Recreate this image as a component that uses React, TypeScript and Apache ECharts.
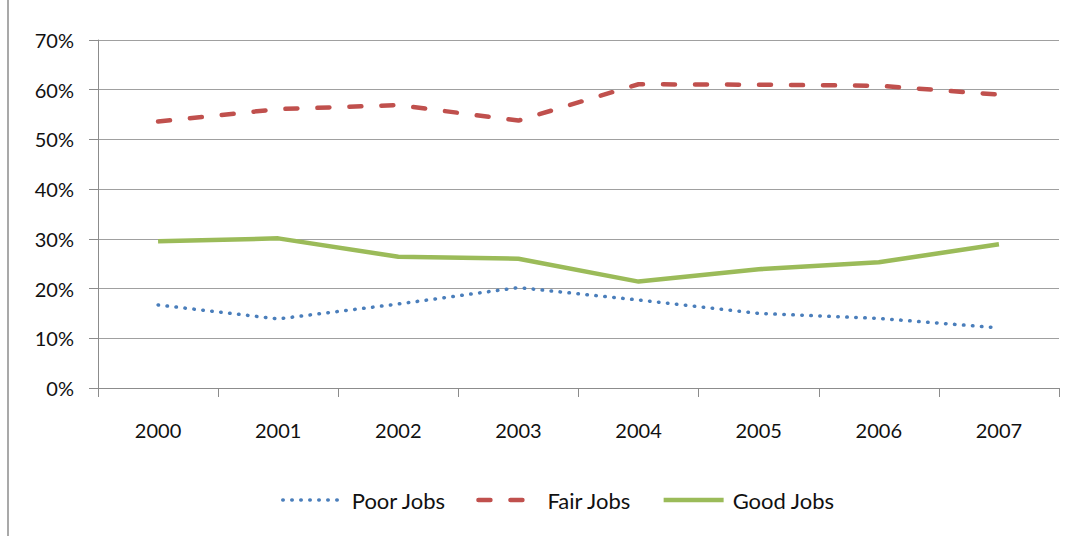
import React, { useEffect, useRef } from "react";
import * as echarts from "echarts";

const years = ["2000", "2001", "2002", "2003", "2004", "2005", "2006", "2007"];
const poorJobs = [16.7, 13.9, 16.9, 20.2, 17.7, 15.0, 14.0, 12.1];
const fairJobs = [53.6, 56.1, 56.9, 53.8, 61.1, 61.0, 60.8, 59.0];
const goodJobs = [29.5, 30.1, 26.4, 26.0, 21.4, 23.9, 25.3, 28.9];

const FONT = "Lato";

export default function App() {
  const ref = useRef<HTMLDivElement>(null);
  useEffect(() => {
    document.body.style.margin = "0";
    const chart = echarts.init(ref.current!, null, { renderer: "svg" });
    chart.setOption({
      animation: false,
      backgroundColor: "#ffffff",
      textStyle: { fontFamily: FONT },
      grid: { left: 98, right: 18, top: 40, bottom: 148, containLabel: false },
      graphic: [
        {
          type: "line",
          shape: { x1: 8, y1: 0, x2: 8, y2: 536 },
          style: { stroke: "#8c8c8c", lineWidth: 1.5 },
        },
      ],
      legend: {
        data: [
          { name: "Poor Jobs", lineStyle: { width: 3.5 }, itemStyle: { opacity: 0 } },
          { name: "Fair Jobs", lineStyle: { width: 4.5 }, itemStyle: { opacity: 0 } },
          { name: "Good Jobs", lineStyle: { width: 4.5 }, itemStyle: { opacity: 0 } },
        ],
        left: 276,
        top: 484,
        itemWidth: 60,
        itemHeight: 4,
        itemGap: 30,
        textStyle: { fontFamily: FONT, fontSize: 22, color: "#111111", padding: [0, 0, 0, 4] },
      },
      xAxis: {
        type: "category",
        data: years,
        boundaryGap: true,
        axisLine: { lineStyle: { color: "#8c8c8c", width: 1 } },
        axisTick: { show: true, length: 9, inside: false, lineStyle: { color: "#8c8c8c" } },
        axisLabel: { fontFamily: FONT, fontSize: 20, color: "#111111", margin: 32 },
        splitLine: { show: false },
      },
      yAxis: {
        type: "value",
        min: 0,
        max: 70,
        interval: 10,
        axisLine: { show: true, lineStyle: { color: "#8c8c8c", width: 1 } },
        axisTick: { show: true, length: 9, lineStyle: { color: "#8c8c8c" } },
        axisLabel: {
          fontFamily: FONT,
          fontSize: 20,
          color: "#111111",
          margin: 24,
          formatter: (v: number) => v + "%",
        },
        splitLine: { show: true, lineStyle: { color: "#a0a0a0", width: 1.2 } },
      },
      series: [
        {
          name: "Poor Jobs",
          type: "line",
          data: poorJobs,
          symbol: "none",
          color: "#4a7ebb",
          lineStyle: { color: "#4a7ebb", width: 3.5, type: [0.5, 8.5], cap: "round" },
        },
        {
          name: "Fair Jobs",
          type: "line",
          data: fairJobs,
          symbol: "none",
          color: "#c0504d",
          lineStyle: { color: "#c0504d", width: 4.5, type: [12, 20], cap: "round" },
        },
        {
          name: "Good Jobs",
          type: "line",
          data: goodJobs,
          symbol: "none",
          color: "#9bbb59",
          lineStyle: { color: "#9bbb59", width: 4.5 },
        },
      ],
    });
    return () => chart.dispose();
  }, []);
  return <div ref={ref} style={{ width: 1077, height: 536 }} />;
}
